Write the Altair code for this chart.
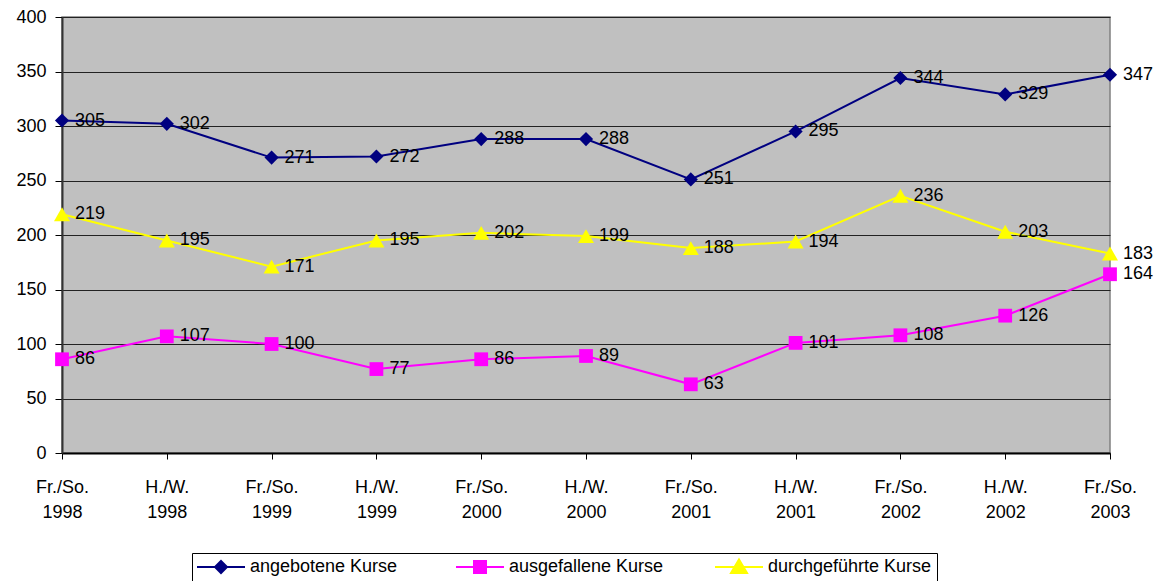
import altair as alt
import pandas as pd

categories = ["Fr./So. 1998", "H./W. 1998", "Fr./So. 1999", "H./W. 1999",
              "Fr./So. 2000", "H./W. 2000", "Fr./So. 2001", "H./W. 2001",
              "Fr./So. 2002", "H./W. 2002", "Fr./So. 2003"]
series_names = ["angebotene Kurse", "ausgefallene Kurse", "durchgeführte Kurse"]
angebotene = [305, 302, 271, 272, 288, 288, 251, 295, 344, 329, 347]
ausgefallene = [86, 107, 100, 77, 86, 89, 63, 101, 108, 126, 164]
durchgefuehrte = [219, 195, 171, 195, 202, 199, 188, 194, 236, 203, 183]
colors = ["#000080", "#FF00FF", "#FFFF00"]
point_shapes = ["diamond", "square", "triangle-up"]
point_sizes = [200, 190, 256]
legend_paths = [
    "M-4.8,0H4.8M0,-1.2L1.2,0L0,1.2L-1.2,0Z",
    "M-4.8,0H4.8M-1.2,-1.2H1.2V1.2H-1.2Z",
    "M-4.8,0H4.8M0,-1.5L1.6,1.2L-1.6,1.2Z",
]

rows = []
for name, vals in zip(series_names, [angebotene, ausgefallene, durchgefuehrte]):
    for c, v in zip(categories, vals):
        rows.append({"Kategorie": c, "Wert": v, "Reihe": name})
df = pd.DataFrame(rows)

FONT = "Liberation Sans"
FS = 18

x_enc = alt.X("Kategorie:N", sort=categories,
              scale=alt.Scale(type="point", padding=0, domain=categories),
              axis=alt.Axis(title=None, labelExpr="split(datum.label, ' ')",
                            labelAngle=0, labelFontSize=FS, labelFont=FONT,
                            labelLineHeight=25, labelPadding=19, tickSize=6,
                            tickColor="black", domainColor="black", domainWidth=2,
                            labelColor="black", grid=False))
y_enc = alt.Y("Wert:Q", scale=alt.Scale(domain=[0, 400], nice=False),
              axis=alt.Axis(title=None, values=list(range(0, 401, 50)),
                            labelFontSize=FS, labelFont=FONT, labelColor="black",
                            labelPadding=9, tickSize=7, tickColor="black",
                            domainColor="#333333", domainWidth=2,
                            grid=True, gridColor="#222222", gridWidth=1))

base = alt.Chart(df)

series_layers = []
for name, col in zip(series_names, colors):
    sub = base.transform_filter(alt.datum.Reihe == name)
    series_layers.append(sub.mark_line(strokeWidth=2, color=col).encode(x=x_enc, y=y_enc))
for name, col, shp, sz in zip(series_names, colors, point_shapes, point_sizes):
    sub = base.transform_filter(alt.datum.Reihe == name)
    series_layers.append(
        sub.mark_point(filled=True, shape=shp, size=sz, color=col, opacity=1)
        .encode(x=x_enc, y=y_enc)
    )

labels = base.mark_text(align="left", baseline="middle", dx=13, fontSize=FS,
                        font=FONT, color="black").encode(
    x=x_enc, y=y_enc, text="Wert:Q")

leg = dict(title=None, orient="none", legendX=130, legendY=536, direction="horizontal",
           strokeColor="black", fillColor="white", padding=5, symbolSize=100,
           symbolStrokeWidth=2, symbolOffset=15, labelOffset=20, labelFontSize=FS,
           labelFont=FONT, labelColor="black", columnPadding=38, gridAlign="all",
           labelLimit=300)

legend_layer = base.transform_filter("false").mark_point(
    filled=True, strokeWidth=2, opacity=1).encode(
    x=x_enc, y=y_enc,
    fill=alt.Fill("Reihe:N", scale=alt.Scale(domain=series_names, range=colors),
                  legend=alt.Legend(**leg)),
    stroke=alt.Stroke("Reihe:N", scale=alt.Scale(domain=series_names, range=colors),
                      legend=alt.Legend(**leg)),
    shape=alt.Shape("Reihe:N", scale=alt.Scale(domain=series_names, range=legend_paths),
                    legend=alt.Legend(**leg)),
)

chart = alt.layer(*series_layers, labels, legend_layer).properties(
    width=1048, height=436,
    autosize=alt.AutoSizeParams(type="none"),
    padding={"left": 54, "top": 9, "right": 44, "bottom": 128},
    background="white",
).configure_view(
    fill="#C0C0C0", stroke="#808080", strokeWidth=1.5
)

chart.save("out.html", embed_options={"renderer": "svg", "actions": False})
